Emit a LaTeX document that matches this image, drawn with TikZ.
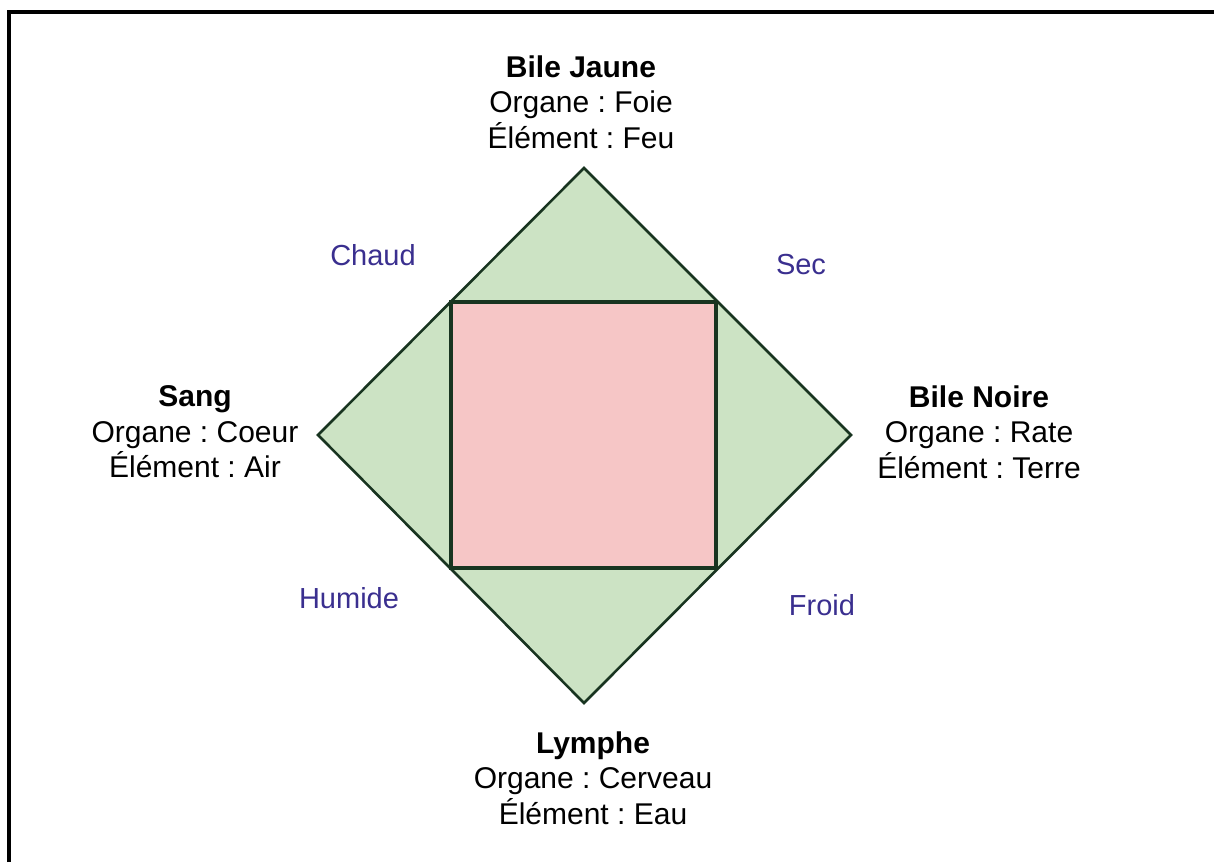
\documentclass[tikz,border=0pt]{standalone}
\usepackage{fontspec}
\setmainfont{Liberation Sans}
\usetikzlibrary{positioning}
\definecolor{humgreen}{RGB}{204,227,196}
\definecolor{humpink}{RGB}{246,198,198}
\definecolor{humedge}{RGB}{24,52,32}
\definecolor{humblue}{RGB}{58,47,143}
\frenchspacing

\begin{document}
\begin{tikzpicture}[x=0.5pt, y=-0.5pt,
   humour/.style={align=center, font=\fontsize{15}{17.8}\selectfont, text=black},
   quality/.style={font=\fontsize{14.5}{17}\selectfont, text=humblue},
   outline/.style={draw=humedge, line width=1.3pt, line join=miter}]

 % frame and page size
 \useasboundingbox (0,0) rectangle (1214,862);
 \draw[line width=1.6pt] (9,862) -- (9,12) -- (1214,12);

 % diamond corners
 \coordinate (top) at (584,168);
 \coordinate (right) at (851,435);
 \coordinate (bottom) at (584,703);
 \coordinate (left) at (318,435);

 \draw[outline, fill=humgreen] (top) -- (right) -- (bottom) -- (left) -- cycle;
 \draw[outline, fill=humpink, line width=1.6pt] (451,302) rectangle (716,568);

 % humours
 \node[humour] (jaune) at (581,102) {\textbf{Bile Jaune}\\Organe : Foie\\Élément : Feu};
 \node[humour] (sang) at (195,432) {\textbf{Sang}\\Organe : Coeur\\Élément : Air};
 \node[humour] (noire) at (979,432) {\textbf{Bile Noire}\\Organe : Rate\\Élément : Terre};
 \node[humour] (lymphe) at (593,778) {\textbf{Lymphe}\\Organe : Cerveau\\Élément : Eau};

 % qualities
 \node[quality] (chaud) at (373,255) {Chaud};
 \node[quality] (sec) at (801,265) {Sec};
 \node[quality] (humide) at (349,598) {Humide};
 \node[quality] (froid) at (822,605) {Froid};
\end{tikzpicture}
\end{document}
